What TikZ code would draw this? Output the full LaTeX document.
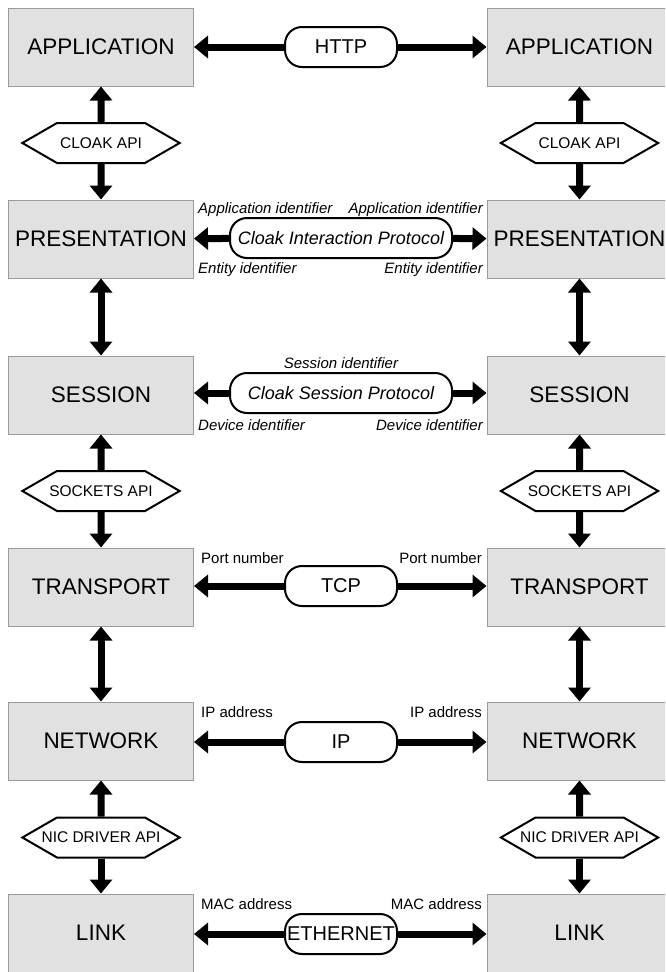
\documentclass[tikz,border=0pt]{standalone}
\usepackage{fontspec}
\setmainfont{Liberation Sans}
\usetikzlibrary{arrows.meta,shapes.symbols}
\definecolor{layerfill}{HTML}{E1E1E1}
\definecolor{layeredge}{HTML}{9A9A9A}
\newcommand\apitext[1]{\makebox[88pt]{#1}}
\tikzset{
  layer/.style={draw=layeredge,fill=layerfill,line width=1pt,minimum width=185pt,
    minimum height=78pt,inner sep=0pt,font=\fontsize{22.5}{26}\selectfont},
  proto/.style={draw,line width=2pt,rounded corners=17pt,minimum width=112pt,
    minimum height=40pt,inner sep=2pt,fill=white,font=\fontsize{20}{24}\selectfont},
  cloak/.style={proto,minimum width=222pt,font=\fontsize{18}{22}\selectfont\itshape},
  api/.style={draw,line width=2pt,signal,signal to=west and east,signal pointer angle=60,
    minimum height=40pt,inner sep=0pt,fill=white,font=\fontsize{15.5}{18}\selectfont},
  fat/.style={line width=7pt,-{Triangle[width=22pt,length=14pt]}},
  fatboth/.style={line width=7pt,{Triangle[width=22pt,length=14pt]}-{Triangle[width=22pt,length=14pt]}},
  lbl/.style={inner sep=0pt,font=\fontsize{15}{18}\selectfont},
  ilbl/.style={inner sep=0pt,font=\fontsize{15}{18}\selectfont\itshape},
}
\begin{document}
\begin{tikzpicture}[x=1pt,y=-1pt]
\clip (0,0) rectangle (665,972);
% layers, left and right stack
\node[layer] (appL) at (101,47) {APPLICATION};
\node[layer] (appR) at (579.5,47) {APPLICATION};
\node[layer] (presL) at (101,239) {PRESENTATION};
\node[layer] (presR) at (579.5,239) {PRESENTATION};
\node[layer] (sessL) at (101,395) {SESSION};
\node[layer] (sessR) at (579.5,395) {SESSION};
\node[layer] (tranL) at (101,587) {TRANSPORT};
\node[layer] (tranR) at (579.5,587) {TRANSPORT};
\node[layer] (netL) at (101,741) {NETWORK};
\node[layer] (netR) at (579.5,741) {NETWORK};
\node[layer] (linkL) at (101,933) {LINK};
\node[layer] (linkR) at (579.5,933) {LINK};

% interfaces between layers
\node[api] (cloakL) at (101,143) {\apitext{CLOAK API}};
\node[api] (cloakR) at (579.5,143) {\apitext{CLOAK API}};
\node[api] (sockL) at (101,491) {\apitext{SOCKETS API}};
\node[api] (sockR) at (579.5,491) {\apitext{SOCKETS API}};
\node[api] (nicL) at (101,837.5) {\apitext{NIC DRIVER API}};
\node[api] (nicR) at (579.5,837.5) {\apitext{NIC DRIVER API}};

% protocols between peers
\node[proto] (http) at (341,47) {HTTP};
\node[cloak] (cip) at (341,238) {Cloak Interaction Protocol};
\node[cloak] (csp) at (341,393) {Cloak Session Protocol};
\node[proto] (tcp) at (341,586) {TCP};
\node[proto] (ip) at (341,742) {IP};
\node[proto] (eth) at (341,934) {ETHERNET};

% identifiers
\node[ilbl,anchor=west] (appidL) at (198,210) {Application identifier};
\node[ilbl,anchor=east] (appidR) at (483,210) {Application identifier};
\node[ilbl,anchor=west] (entL) at (198,270) {Entity identifier};
\node[ilbl,anchor=east] (entR) at (483,270) {Entity identifier};
\node[ilbl] (sessid) at (341,363) {Session identifier};
\node[ilbl,anchor=west] (devL) at (198,425) {Device identifier};
\node[ilbl,anchor=east] (devR) at (483,425) {Device identifier};
\node[lbl,anchor=west] (portL) at (201,558) {Port number};
\node[lbl,anchor=east] (portR) at (482,558) {Port number};
\node[lbl,anchor=west] (ipaL) at (201,712) {IP address};
\node[lbl,anchor=east] (ipaR) at (482,712) {IP address};
\node[lbl,anchor=west] (macL) at (201,904) {MAC address};
\node[lbl,anchor=east] (macR) at (482,904) {MAC address};

% vertical arrows
\draw[fat] (cloakL) -- (appL);
\draw[fat] (cloakL) -- (presL);
\draw[fat] (cloakR) -- (appR);
\draw[fat] (cloakR) -- (presR);
\draw[fatboth] (presL) -- (sessL);
\draw[fatboth] (presR) -- (sessR);
\draw[fat] (sockL) -- (sessL);
\draw[fat] (sockL) -- (tranL);
\draw[fat] (sockR) -- (sessR);
\draw[fat] (sockR) -- (tranR);
\draw[fatboth] (tranL) -- (netL);
\draw[fatboth] (tranR) -- (netR);
\draw[fat] (nicL) -- (netL);
\draw[fat] (nicL) -- (linkL);
\draw[fat] (nicR) -- (netR);
\draw[fat] (nicR) -- (linkR);

% horizontal arrows
\draw[fat] (http) -- (appL);
\draw[fat] (http) -- (appR);
\draw[fat] (cip) -- (presL);
\draw[fat] (cip) -- (presR);
\draw[fat] (csp) -- (sessL.east |- csp);
\draw[fat] (csp) -- (sessR.west |- csp);
\draw[fat] (tcp) -- (tranL.east |- tcp);
\draw[fat] (tcp) -- (tranR.west |- tcp);
\draw[fat] (ip) -- (netL.east |- ip);
\draw[fat] (ip) -- (netR.west |- ip);
\draw[fat] (eth) -- (linkL.east |- eth);
\draw[fat] (eth) -- (linkR.west |- eth);
\end{tikzpicture}
\end{document}
